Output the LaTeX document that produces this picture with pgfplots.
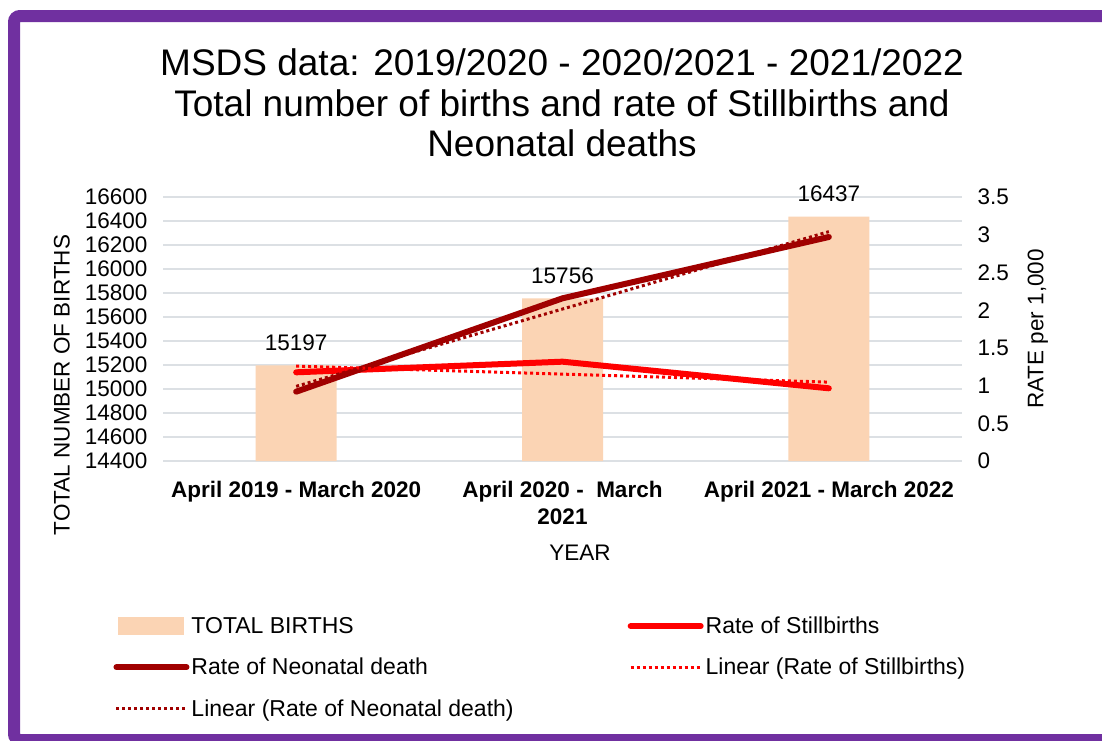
\documentclass[border=0pt]{standalone}
\usepackage{pgfplots}
\pgfplotsset{compat=1.18}
\usepackage{fontspec}
\setmainfont{Liberation Sans}

\definecolor{peach}{HTML}{FBD4B4}
\definecolor{stillred}{HTML}{FF0000}
\definecolor{neored}{HTML}{A00000}
\definecolor{gridgrey}{HTML}{DCE0E4}
\definecolor{framepurple}{HTML}{7030A0}

\newcommand{\tf}{\fontsize{22.5}{26}\selectfont}

\begin{document}
\begin{tikzpicture}[x=1pt,y=1pt]
  \path[use as bounding box] (0,0) rectangle (1102,-740);
  \begin{scope}
    \clip (0,0) rectangle (1102,-740);
    \fill[white] (0,0) rectangle (1102,-740);
    \draw[framepurple, line width=12pt, rounded corners=6pt] (14,-16) rectangle (1120,-740);
  \end{scope}
  \coordinate (O) at (163,-461);

  % title and axis titles
  \node[align=center, font=\fontsize{37}{40.5}\selectfont] at (562,-103)
    {MSDS data: 2019/2020 - 2020/2021 - 2021/2022\\Total number of births and rate of Stillbirths and\\Neonatal deaths};
  \node[rotate=90, font=\tf] at (62,-385) {TOTAL NUMBER OF BIRTHS};
  \node[font=\tf] at (580,-553) {YEAR};

  % births (left axis)
  \begin{axis}[
      at={(O)}, anchor=south west, scale only axis,
      width=799pt, height=264pt,
      xmin=-0.5, xmax=2.5, ymin=14400, ymax=16600,
      xtick={0,1,2},
      xticklabels={{April 2019 - March 2020},{April 2020 -\ \ March\\2021},{April 2021 - March 2022}},
      xticklabel style={font=\bfseries\fontsize{22.5}{27}\selectfont, align=center, yshift=-17pt},
      ytick={14400,14600,...,16600},
      scaled y ticks=false,
      yticklabel style={font=\tf, xshift=-12pt},
      /pgf/number format/assume math mode=true,
      /pgf/number format/set thousands separator={},
      axis line style={draw=none}, major tick length=0pt,
      ymajorgrids, grid style={gridgrey, line width=2pt},
      ybar, bar width=81pt,
      nodes near coords,
      nodes near coords style={font=\tf, yshift=11pt, /pgf/number format/set thousands separator={}},
    ]
    \addplot[fill=peach, draw=none] coordinates {(0,15197) (1,15756) (2,16437)};
  \end{axis}

  % rates (right axis)
  \begin{axis}[
      at={(O)}, anchor=south west, scale only axis,
      width=799pt, height=264pt,
      xmin=-0.5, xmax=2.5, ymin=0, ymax=3.5,
      axis x line=none, axis y line*=right,
      axis line style={draw=none}, major tick length=0pt,
      ytick={0,0.5,...,3.5},
      yticklabel style={font=\tf, xshift=12pt},
      /pgf/number format/assume math mode=true,
      ylabel={RATE per 1,000},
      every axis y label/.style={at={(1.095,0.5)}, rotate=90, font=\tf},
      legend columns=2,
      legend cell align=left,
      legend style={at={(-0.066,-0.575)}, anchor=north west, draw=none, fill=none,
        font=\fontsize{23}{26}\selectfont, row sep=19pt,
        /tikz/every even column/.append style={column sep=112pt}},
      legend image code/.code={\draw[#1] (0pt,0pt) -- (70pt,0pt);},
    ]
    \addlegendimage{legend image code/.code={\fill[peach] (2pt,-8pt) rectangle (67pt,9pt);}}
    \addlegendentry{TOTAL BIRTHS}
    \addplot[stillred, line width=6pt, line cap=round] coordinates {(0,1.176) (1,1.317) (2,0.964)};
    \addlegendentry{Rate of Stillbirths}
    \addplot[neored, line width=6pt, line cap=round] coordinates {(0,0.919) (1,2.157) (2,2.970)};
    \addlegendentry{Rate of Neonatal death}
    \addplot[stillred, line width=3pt, dash pattern=on 3pt off 3pt] coordinates {(0,1.258) (1,1.152) (2,1.046)};
    \addlegendentry{Linear (Rate of Stillbirths)}
    \addplot[neored, line width=3pt, dash pattern=on 3pt off 3pt] coordinates {(0,0.990) (1,2.015) (2,3.041)};
    \addlegendentry{Linear (Rate of Neonatal death)}
  \end{axis}
\end{tikzpicture}
\end{document}
